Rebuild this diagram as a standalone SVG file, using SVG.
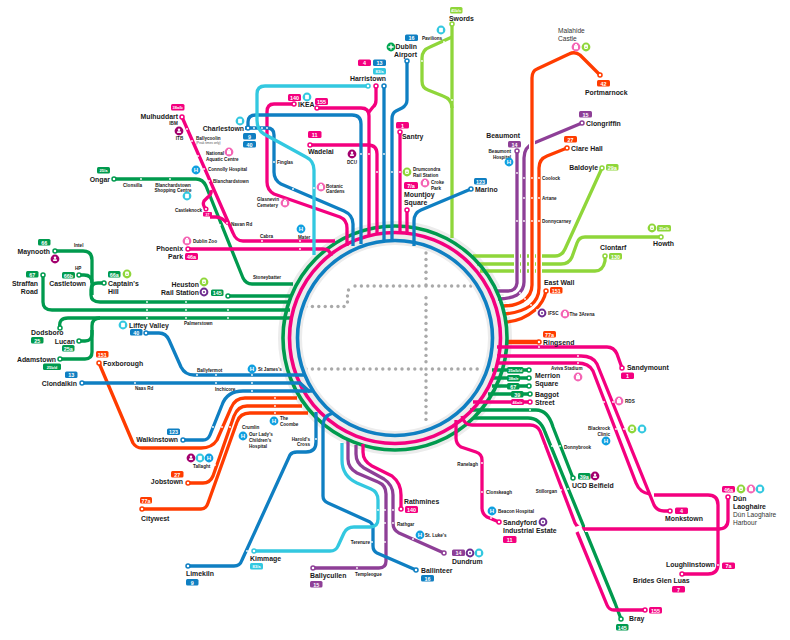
<svg xmlns="http://www.w3.org/2000/svg" width="790" height="640" viewBox="0 0 790 640">
<style>
text{font-family:"Liberation Sans",Arial,sans-serif;fill:#1a1a1a}
.t{font-size:6.9px;font-weight:700}
.r{font-size:6.6px;fill:#333}
.s{font-size:4.6px;font-weight:700}
.xs{font-size:3.2px;fill:#555}
.e{text-anchor:end}
.m{text-anchor:middle}
.bt{font-size:5.4px;fill:#fff;text-anchor:middle;font-weight:700}
.bs{font-size:4px;fill:#fff;text-anchor:middle;font-weight:700}
#lines path{fill:none;stroke-width:3.3;stroke-linejoin:round}
#lines path.w{stroke:#fff;stroke-width:6}
.g{stroke:#009a4e}.p{stroke:#f4007f}.b{stroke:#0f7fc2}.c{stroke:#33c8e0}.o{stroke:#ff3c00}.u{stroke:#8e3f97}.l{stroke:#8fd63a}
.fg{fill:#009a4e}.fp{fill:#f4007f}.fb{fill:#0f7fc2}.fc{fill:#33c8e0}.fo{fill:#ff3c00}.fu{fill:#8e3f97}.fl{fill:#8fd63a}
.st{fill:#fff;stroke-width:1.5}
.d{fill:#fff}
.dot{fill:#a9a9a9}
.iw{fill:#fff}
</style>
<defs>
<g id="ih"><circle r="4.4" fill="#10a0e0"/><text y="2.1" font-size="6" font-weight="700" text-anchor="middle" style="fill:#fff">H</text></g>
<g id="is"><circle r="4.4" fill="#33c8e0"/><rect x="-1.9" y="-2.3" width="3.8" height="4.6" rx=".8" class="iw"/></g>
<g id="ir"><circle r="4.4" fill="#8fd63a"/><rect x="-1.9" y="-2.4" width="3.8" height="4.4" rx="1.2" class="iw"/><circle r=".8" cy=".2" fill="#8fd63a"/></g>
<g id="ia"><circle r="4.4" fill="#f465b4"/><rect x="-2" y="-1.8" width="4" height="4" rx=".4" class="iw"/><rect x="-1" y="-3" width="2" height="1.4" class="iw"/></g>
<g id="ic"><circle r="4.4" fill="#a3006e"/><circle r="1.2" cy="-1.3" class="iw"/><rect x="-1.9" y=".2" width="3.8" height="1.9" rx=".6" class="iw"/></g>
<g id="iu"><circle r="4.4" fill="#6f2c91"/><circle r="2.4" class="iw"/><circle r="1" fill="#6f2c91"/></g>
<g id="ip"><circle r="4.4" fill="#00a651"/><path d="M-2.6 0H2.6M0-2.6V2.6" stroke="#fff" stroke-width="1.3"/></g>
</defs>
<g id="lines">
<g id="dotted" class="dot">
<circle cx="426" cy="253" r="1.7"/><circle cx="426" cy="259.400" r="1.7"/><circle cx="426" cy="265.800" r="1.7"/><circle cx="426" cy="272.200" r="1.7"/><circle cx="426" cy="278.600" r="1.7"/><circle cx="426" cy="285" r="1.7"/><circle cx="426" cy="297.800" r="1.7"/><circle cx="426" cy="304.200" r="1.7"/><circle cx="426" cy="310.600" r="1.7"/><circle cx="426" cy="317" r="1.7"/><circle cx="426" cy="323.400" r="1.7"/><circle cx="426" cy="329.800" r="1.7"/><circle cx="426" cy="336.200" r="1.7"/><circle cx="426" cy="342.600" r="1.7"/><circle cx="426" cy="349" r="1.7"/><circle cx="426" cy="355.400" r="1.7"/><circle cx="426" cy="361.800" r="1.7"/><circle cx="426" cy="374.600" r="1.7"/><circle cx="426" cy="381" r="1.7"/><circle cx="426" cy="387.400" r="1.7"/><circle cx="426" cy="393.800" r="1.7"/><circle cx="426" cy="400.200" r="1.7"/><circle cx="426" cy="406.600" r="1.7"/><circle cx="426" cy="413" r="1.7"/><circle cx="426" cy="419.400" r="1.7"/>
<circle cx="355" cy="286" r="1.7"/><circle cx="361.400" cy="286" r="1.7"/><circle cx="367.800" cy="286" r="1.7"/><circle cx="374.200" cy="286" r="1.7"/><circle cx="380.600" cy="286" r="1.7"/><circle cx="387" cy="286" r="1.7"/><circle cx="393.400" cy="286" r="1.7"/><circle cx="399.800" cy="286" r="1.7"/><circle cx="406.200" cy="286" r="1.7"/><circle cx="412.600" cy="286" r="1.7"/><circle cx="419" cy="286" r="1.7"/><circle cx="426" cy="286" r="1.7"/><circle cx="432.400" cy="286" r="1.7"/><circle cx="438.800" cy="286" r="1.7"/><circle cx="445.200" cy="286" r="1.7"/><circle cx="451.600" cy="286" r="1.7"/><circle cx="458" cy="286" r="1.7"/><circle cx="464.400" cy="286" r="1.7"/><circle cx="470.800" cy="286" r="1.7"/>
<circle cx="348.500" cy="290" r="1.7"/><circle cx="347.500" cy="296" r="1.7"/><circle cx="347.500" cy="302" r="1.7"/><circle cx="344" cy="306.500" r="1.7"/><circle cx="338" cy="306.500" r="1.7"/><circle cx="331.600" cy="306.500" r="1.7"/><circle cx="325.200" cy="306.500" r="1.7"/><circle cx="318.800" cy="306.500" r="1.7"/><circle cx="312.400" cy="306.500" r="1.7"/><circle cx="306" cy="306.500" r="1.7"/>
<circle cx="306" cy="369" r="1.7"/><circle cx="312.400" cy="369" r="1.7"/><circle cx="318.800" cy="369" r="1.7"/><circle cx="325.200" cy="369" r="1.7"/><circle cx="331.600" cy="369" r="1.7"/><circle cx="338" cy="369" r="1.7"/><circle cx="344.400" cy="369" r="1.7"/><circle cx="350.800" cy="369" r="1.7"/><circle cx="357.200" cy="369" r="1.7"/><circle cx="363.600" cy="369" r="1.7"/><circle cx="370" cy="369" r="1.7"/><circle cx="376.400" cy="369" r="1.7"/><circle cx="382.800" cy="369" r="1.7"/><circle cx="389.200" cy="369" r="1.7"/><circle cx="395.600" cy="369" r="1.7"/><circle cx="402" cy="369" r="1.7"/><circle cx="408.400" cy="369" r="1.7"/><circle cx="414.800" cy="369" r="1.7"/><circle cx="421.200" cy="369" r="1.7"/><circle cx="426" cy="369" r="1.7"/><circle cx="432.400" cy="369" r="1.7"/><circle cx="438.800" cy="369" r="1.7"/><circle cx="445.200" cy="369" r="1.7"/><circle cx="451.600" cy="369" r="1.7"/><circle cx="458" cy="369" r="1.7"/><circle cx="464.400" cy="369" r="1.7"/><circle cx="470.800" cy="369" r="1.7"/><circle cx="477.200" cy="369" r="1.7"/>
</g>
<circle cx="395" cy="338" r="105" fill="none" stroke="#ececec" stroke-width="24"/>
<!-- lime -->
<path class="l" d="M452 24V238"/>
<path class="l" d="M452 37L430 47Q422 50 422 58V81Q422 88 428 90L443 96Q452 99 452 108"/>
<path class="l" d="M602 168L565 249Q562 256 555 256H473"/>
<path class="l" d="M661 237H585Q579 237 577 243L572 257Q569 264 561 264H477"/>
<path class="l" d="M605 256V261Q603 271 595 271H480"/>
<!-- orange / purple, with casing -->
<path class="w" d="M517 151V283Q516 291 508 291H497"/>
<path class="u" d="M517 151V283Q516 291 508 291H497"/>
<path class="w" d="M582 123L534 143Q524 147 524 158V282Q524 290 517 295Q509 299 498 299"/>
<path class="u" d="M582 123L534 143Q524 147 524 158V282Q524 290 517 295Q509 299 498 299"/>
<path class="w" d="M600 75L580 55Q575 51 569 54L537 69Q532 71 532 78V285Q532 295 523 301Q515 306 503 306"/>
<path class="o" d="M600 75L580 55Q575 51 569 54L537 69Q532 71 532 78V285Q532 295 523 301Q515 306 503 306"/>
<path class="w" d="M567 148L547 156Q539 159 539 168V288Q539 299 530 306Q520 313 503 314"/>
<path class="o" d="M567 148L547 156Q539 159 539 168V288Q539 299 530 306Q520 313 503 314"/>
<path class="o" d="M546 291Q544 302 535 310Q522 321 506 322"/>
<path class="o" style="stroke-width:4.500" d="M507 342H539"/>
<path class="o" d="M99 363L133 443Q136 448 142 448H201Q212 448 217 440L231 408Q235 398 245 398H297"/>
<path class="o" d="M188 483H203Q210 483 213 476L234 416Q238 406 247 406H302"/>
<path class="o" d="M142 509H201Q206 509 208 503L237 422Q240 413 250 413H308"/>
<path class="u" d="M313 568H379Q386 568 386 561V494Q386 485 378 482L357 473Q348 468 348 459V440"/>
<path class="u" d="M444 553L399 533Q393 530 393 523V495Q393 485 384 479L364 468Q356 463 356 454V445"/>
<!-- green -->
<path class="g" d="M114 179H196Q203 179 206 186L243 278Q246 284 252 284H293"/>
<path class="g" d="M55 251H83Q92 251 92 260V295"/>
<path class="g" d="M79 275H84Q92 275 92 283"/>
<path class="g" d="M104 283H98Q91 283 91 290V295Q91 302 100 302H290"/>
<path class="g" d="M43 275V302Q43 310 52 310H290"/>
<path class="g" d="M228 296H290"/>
<path class="g" d="M60 328Q58 318 68 318H292"/>
<path class="g" d="M79 341H85Q92 341 92 334V326Q92 318 100 318"/>
<path class="g" d="M60 359H85Q92 359 92 352V330"/>
<path class="g" d="M492 370H529M492 378H529M492 386H529M488 394H530"/>
<path class="g" d="M621 619L615 603L545 432Q540 418 528 418H474"/>
<path class="g" d="M573 478L553 427Q548 410 536 410H470"/>
<circle cx="395" cy="338" r="112" fill="none" stroke="#009a4e" stroke-width="3.600"/>
<!-- pink -->
<path class="p" d="M182 117L233 233Q236 241 243 241H335"/>
<path class="p" d="M211 190Q212 194 208 197L204 201Q202 205 206 209"/>
<path class="p" d="M210 217H216Q222 217 228 224"/>
<path class="p" d="M188 249H323Q330 249 331 256"/>
<path class="p" d="M294 104H274Q267 104 267 112V182Q267 190 274 194L340 217Q347 220 347 228V246"/>
<path class="p" d="M317 108H361Q369 108 369 116V236"/>
<path class="p" d="M376 86V100Q376 105 373 107L369 112"/>
<path class="p" d="M310 145H368Q377 145 377 154V234"/>
<path class="p" d="M400 132V234"/>
<path class="p" d="M407 210V234"/>
<path class="p" d="M401 509V495Q401 483 392 476L372 466Q363 461 363 452V444"/>
<path class="p" d="M499 522L487 517Q482 514 482 508V460Q482 454 476 452L461 447Q456 444 456 438V420"/>
<path class="w" d="M585 529H600"/>
<path class="p" d="M462 416Q464 425 472 425H530Q537 425 540 431L575 523Q578 529 585 529H718Q728 529 728 520V497"/>
<path class="w" d="M582 536L578 526"/>
<path class="p" d="M645 610H614Q609 610 607 605L577 532"/>
<path class="p" d="M622 368L617 354Q614 347 607 347H497"/>
<path class="p" d="M497 356H581Q593 356 597 364L654 505Q657 511 664 511H670"/>
<path class="p" d="M497 363H577Q589 363 593 371L636 483Q640 493 650 494"/>
<path class="p" d="M654 495H708Q718 495 718 505V564Q718 574 708 574H682"/>
<path class="p" d="M473 402H530"/>
<circle cx="395" cy="338" r="105.500" fill="none" stroke="#f4007f" stroke-width="3.600"/>
<!-- blue -->
<path class="b" d="M146 333H159Q166 333 169 340L181 367Q185 375 194 375H306"/>
<path class="b" d="M82 383H300L310 392"/>
<path class="b" d="M183 440H203Q208 440 210 435L222 405Q227 391 243 391H312"/>
<path class="b" d="M188 566H234Q240 566 242 560L290 455Q292 452 297 452H306Q316 452 316 442V412"/>
<path class="b" d="M333 413Q323 416 323 425V496Q323 501 328 503L370 522Q373 524 373 528V546Q373 551 377 553L416 570"/>
<path class="c" d="M254 551H330Q336 551 338 546L344 533Q347 527 354 527H370Q378 527 378 519V500Q378 492 371 489L357 483Q342 476 342 460V443"/>
<path class="b" d="M245 128H267Q274 128 274 135V172Q274 180 281 184L344 211Q353 215 353 224V246"/>
<path class="b" d="M248 128V122Q248 115 256 115H352Q361 115 361 124V244"/>
<path class="b" d="M384 86V242"/>
<path class="b" d="M407 61V100Q407 105 402 108L396 111Q392 113 392 119V242"/>
<path class="b" d="M471 189L421 210Q414 213 414 221V246"/>
<path class="c" d="M368 86H265Q257 86 257 94V120Q257 130 264 134L306 157Q314 161 314 170V255"/>
<circle cx="395" cy="338" r="97.500" fill="none" stroke="#0f7fc2" stroke-width="3.600"/>
<g id="ticks" class="d">
<circle cx="187" cy="129" r=".9"/><circle cx="192" cy="141" r=".9"/><circle cx="198" cy="156" r=".9"/><circle cx="204" cy="169" r=".9"/><circle cx="209" cy="181" r=".9"/><circle cx="227" cy="223" r=".9"/><circle cx="262" cy="241" r=".9"/><circle cx="300" cy="241" r=".9"/><circle cx="300" cy="249" r=".9"/><circle cx="141" cy="179" r=".9"/><circle cx="170" cy="179" r=".9"/><circle cx="220" cy="225" r=".9"/>
<circle cx="254" cy="128" r=".9"/><circle cx="262" cy="128" r=".9"/><circle cx="267" cy="128" r=".9"/><circle cx="274" cy="162" r=".9"/><circle cx="293" cy="189" r=".9"/><circle cx="314" cy="188" r=".9"/><circle cx="290" cy="196" r=".9"/><circle cx="361" cy="154" r=".9"/><circle cx="369" cy="154" r=".9"/><circle cx="384" cy="154" r=".9"/><circle cx="377" cy="172" r=".9"/><circle cx="392" cy="172" r=".9"/><circle cx="400" cy="172" r=".9"/>
<circle cx="517" cy="173" r=".9"/><circle cx="524" cy="178" r=".9"/><circle cx="532" cy="178" r=".9"/><circle cx="539" cy="178" r=".9"/><circle cx="524" cy="198" r=".9"/><circle cx="532" cy="198" r=".9"/><circle cx="539" cy="198" r=".9"/><circle cx="517" cy="221" r=".9"/><circle cx="524" cy="221" r=".9"/><circle cx="532" cy="221" r=".9"/><circle cx="539" cy="221" r=".9"/>
<circle cx="147" cy="302" r=".9"/><circle cx="186" cy="302" r=".9"/><circle cx="147" cy="310" r=".9"/><circle cx="186" cy="310" r=".9"/><circle cx="228" cy="310" r=".9"/><circle cx="147" cy="318" r=".9"/><circle cx="186" cy="318" r=".9"/><circle cx="228" cy="318" r=".9"/>
<circle cx="197" cy="375" r=".9"/><circle cx="216" cy="375" r=".9"/><circle cx="252" cy="375" r=".9"/><circle cx="135" cy="383" r=".9"/><circle cx="216" cy="383" r=".9"/><circle cx="252" cy="383" r=".9"/><circle cx="252" cy="391" r=".9"/><circle cx="275" cy="398" r=".9"/><circle cx="275" cy="406" r=".9"/><circle cx="275" cy="413" r=".9"/><circle cx="213" cy="427" r=".9"/><circle cx="222" cy="427" r=".9"/><circle cx="230" cy="427" r=".9"/><circle cx="238" cy="427" r=".9"/><circle cx="215" cy="465" r=".9"/><circle cx="316" cy="439" r=".9"/>
<circle cx="378" cy="510" r=".9"/><circle cx="385" cy="510" r=".9"/><circle cx="393" cy="510" r=".9"/><circle cx="385" cy="523" r=".9"/><circle cx="393" cy="523" r=".9"/><circle cx="385" cy="542" r=".9"/><circle cx="372" cy="542" r=".9"/><circle cx="357" cy="568" r=".9"/><circle cx="413" cy="539" r=".9"/><circle cx="247" cy="551" r=".9"/>
<circle cx="482" cy="463" r=".9"/><circle cx="482" cy="492" r=".9"/><circle cx="491" cy="518" r=".9"/><circle cx="543" cy="446" r=".9"/><circle cx="552" cy="446" r=".9"/><circle cx="560" cy="446" r=".9"/><circle cx="561" cy="490" r=".9"/><circle cx="568" cy="489" r=".9"/><circle cx="530" cy="410" r=".9"/><circle cx="604" cy="402" r=".9"/><circle cx="613" cy="402" r=".9"/><circle cx="616" cy="429" r=".9"/><circle cx="624" cy="429" r=".9"/><circle cx="718" cy="565" r=".9"/><circle cx="539" cy="347" r=".9"/><circle cx="578" cy="356" r=".9"/><circle cx="578" cy="363" r=".9"/><circle cx="537" cy="310" r=".9"/><circle cx="531" cy="305" r=".9"/><circle cx="525" cy="299" r=".9"/><circle cx="520" cy="293" r=".9"/><circle cx="444" cy="42" r=".9"/><circle cx="422" cy="61" r=".9"/><circle cx="452" cy="100" r=".9"/>
</g>
</g>
<g id="n-swords"><circle class="st l" cx="452" cy="24" r="2"/><rect class="fl" x="450" y="7" width="12.500" height="6.500" rx="1.500"/><text class="bs" x="456" y="12">41b/c</text><text class="t" x="449" y="20.500">Swords</text></g>
<g id="n-pavilions"><use href="#is" x="441" y="30"/><text class="s" x="422" y="40">Pavilions</text></g>
<g id="n-dublin-airport"><circle class="st b" cx="407" cy="61" r="2"/><rect class="fb" x="405" y="34.500" width="13" height="6.500" rx="1.500"/><text class="bt" x="411.500" y="40">16</text><use href="#ip" x="391" y="47"/><text class="t e" x="417" y="49">Dublin</text><text class="t e" x="417" y="57">Airport</text></g>
<g id="n-harristown"><circle class="st c" cx="368" cy="86" r="2"/><circle class="st p" cx="376" cy="86" r="2"/><circle class="st b" cx="384" cy="86" r="2"/><rect class="fp" x="358" y="59.500" width="13" height="6.500" rx="1.500"/><text class="bt" x="364.500" y="65">4</text><rect class="fb" x="373" y="59.500" width="13" height="6.500" rx="1.500"/><text class="bt" x="379.500" y="65">13</text><rect class="fc" x="373" y="68" width="13" height="6.500" rx="1.500"/><text class="bs" x="379.500" y="73">83/a</text><text class="t e" x="386" y="81">Harristown</text></g>
<g id="n-santry"><circle class="st p" cx="400" cy="132" r="2"/><rect class="fp" x="396" y="122" width="13" height="6.500" rx="1.500"/><text class="bt" x="402.500" y="127.500">1</text><text class="t" x="402" y="139">Santry</text></g>
<g id="n-drumcondra"><use href="#ir" x="407" y="172"/><text class="s" x="413" y="171">Drumcondra</text><text class="s" x="413" y="177">Rail Station</text></g>
<g id="n-croke"><use href="#ia" x="425" y="183"/><text class="s" x="431" y="183.500">Croke</text><text class="s" x="431" y="189.500">Park</text></g>
<g id="n-mountjoy"><circle class="st p" cx="407" cy="210" r="2"/><rect class="fp" x="404" y="182" width="14" height="7" rx="1.500"/><text class="bt" x="411" y="187.800">7/a</text><text class="t" x="404" y="197">Mountjoy</text><text class="t" x="404" y="205">Square</text></g>
<g id="n-marino"><circle class="st b" cx="471" cy="189" r="2"/><rect class="fb" x="474" y="178" width="13" height="6.500" rx="1.500"/><text class="bt" x="480.500" y="183.500">123</text><text class="t" x="475" y="192">Marino</text></g>
<g id="n-malahide"><text class="r" x="558" y="33">Malahide</text><text class="r" x="558" y="41">Castle</text><use href="#ia" x="576" y="47"/><use href="#ir" x="586" y="47"/></g>
<g id="n-portmarnock"><circle class="st o" cx="600" cy="75" r="2"/><rect class="fo" x="597" y="80" width="13" height="6.500" rx="1.500"/><text class="bt" x="603.500" y="85.500">42</text><text class="t" x="585" y="94.500">Portmarnock</text></g>
<g id="n-clongriffin"><circle class="st u" cx="582" cy="123" r="2"/><rect class="fu" x="579" y="111" width="13" height="6.500" rx="1.500"/><text class="bt" x="585.500" y="116.500">15</text><text class="t" x="586" y="126">Clongriffin</text></g>
<g id="n-beaumont"><circle class="st u" cx="517" cy="151" r="2"/><text class="t e" x="520" y="138">Beaumont</text><rect class="fu" x="508" y="141" width="13" height="6.500" rx="1.500"/><text class="bt" x="514.500" y="146.500">14</text><text class="s e" x="511" y="153">Beaumont</text><text class="s e" x="511" y="158.500">Hospital</text><use href="#ih" x="509" y="162"/></g>
<g id="n-clarehall"><circle class="st o" cx="567" cy="148" r="2"/><rect class="fo" x="564" y="136" width="13" height="6.500" rx="1.500"/><text class="bt" x="570.500" y="141.500">27</text><text class="t" x="571" y="150.700">Clare Hall</text></g>
<g id="n-baldoyle"><circle class="st l" cx="602" cy="168" r="2"/><text class="t e" x="598" y="169.500">Baldoyle</text><rect class="fl" x="606" y="164" width="12.500" height="6.500" rx="1.500"/><text class="bt" x="612.200" y="169.500">29a</text></g>
<g id="n-coolock"><text class="s" x="542" y="180">Coolock</text></g>
<g id="n-artane"><text class="s" x="542" y="200">Artane</text></g>
<g id="n-donnycarney"><text class="s" x="542" y="223">Donnycarney</text></g>
<g id="n-howth"><circle class="st l" cx="661" cy="237" r="2"/><use href="#ir" x="652" y="228"/><rect class="fl" x="657" y="225" width="14" height="6.500" rx="1.500"/><text class="bs" x="664" y="230">31a/b</text><text class="t" x="653" y="245.700">Howth</text></g>
<g id="n-clontarf"><circle class="st l" cx="605" cy="256" r="2"/><text class="t" x="600" y="250">Clontarf</text><rect class="fl" x="609" y="253" width="13" height="6.500" rx="1.500"/><text class="bt" x="615.500" y="258.500">130</text></g>
<g id="n-eastwall"><circle class="st o" cx="546" cy="291" r="2"/><text class="t" x="544" y="284.500">East Wall</text><rect class="fo" x="550" y="287" width="12.500" height="6.500" rx="1.500"/><text class="bt" x="556.200" y="292.500">151</text></g>
<g id="n-ifsc"><use href="#iu" x="542" y="313"/><text class="s" x="548" y="315">IFSC</text></g>
<g id="n-3arena"><use href="#ia" x="565" y="314"/><text class="s" x="569.500" y="316">The 3Arena</text></g>
<g id="n-ringsend"><circle class="st o" cx="539" cy="342" r="2"/><rect class="fo" x="543" y="331" width="13" height="6.500" rx="1.500"/><text class="bt" x="549.500" y="336.500">77a</text><text class="t" x="543" y="344.500">Ringsend</text></g>
<g id="n-sandymount"><circle class="st p" cx="622" cy="368" r="2"/><text class="t" x="627" y="370">Sandymount</text><rect class="fp" x="621" y="372.500" width="13" height="6.500" rx="1.500"/><text class="bt" x="627.500" y="378">1</text></g>
<g id="n-aviva"><text class="s" x="551" y="370">Aviva Stadium</text><use href="#ia" x="578" y="377"/></g>
<g id="n-merrion"><circle class="st g" cx="529" cy="370" r="2"/><circle class="st g" cx="529" cy="378" r="2"/><rect class="fg" x="507" y="367" width="16.500" height="6.500" rx="1.500"/><text class="bs" x="515.200" y="372">25a/b/d</text><rect class="fg" x="507" y="375" width="13" height="6.500" rx="1.500"/><text class="bs" x="513.500" y="380">38a/e</text><text class="t" x="535" y="377.500">Merrion</text><text class="t" x="535" y="385.500">Square</text></g>
<g id="n-67"><circle class="st g" cx="529" cy="386" r="2"/><rect class="fg" x="507" y="383" width="12.500" height="6.500" rx="1.500"/><text class="bt" x="513.200" y="388.500">67</text></g>
<g id="n-baggot"><circle class="st g" cx="530" cy="394" r="2"/><rect class="fg" x="511" y="391" width="12.500" height="6.500" rx="1.500"/><text class="bt" x="517.200" y="396.500">39</text><text class="t" x="535" y="396.500">Baggot</text></g>
<g id="n-street"><circle class="st p" cx="530" cy="402" r="2"/><rect class="fp" x="511" y="399" width="13" height="6" rx="1.500"/><text class="bs" x="517.500" y="403.700">46a/e</text><text class="t" x="535" y="404.500">Street</text></g>
<g id="n-rds"><use href="#ia" x="619" y="401"/><text class="s" x="625" y="403">RDS</text></g>
<g id="n-blackrock"><text class="s e" x="610" y="430">Blackrock</text><text class="s e" x="610" y="435.500">Clinic</text><use href="#ih" x="606" y="441"/><use href="#ir" x="632" y="429"/><use href="#is" x="642" y="429"/></g>
<g id="n-monkstown"><circle class="st p" cx="670" cy="511" r="2"/><rect class="fp" x="675" y="507.500" width="13" height="6.500" rx="1.500"/><text class="bt" x="681.500" y="513">4</text><text class="t" x="665" y="520.700">Monkstown</text></g>
<g id="n-dunlaoghaire"><circle class="st p" cx="728" cy="497" r="2"/><rect class="fp" x="722" y="486" width="13" height="6.500" rx="1.500"/><text class="bt" x="728.500" y="491.500">46a</text><use href="#ir" x="741" y="489"/><use href="#ia" x="751" y="489"/><use href="#is" x="760" y="489"/><text class="t" x="733" y="500.500">Dún</text><text class="t" x="733" y="508.500">Laoghaire</text><text class="r" x="733" y="516.700">Dún Laoghaire</text><text class="r" x="733" y="524.500">Harbour</text></g>
<g id="n-loughlinstown"><text class="t e" x="715" y="567">Loughlinstown</text><rect class="fp" x="722" y="562.500" width="13" height="6.500" rx="1.500"/><text class="bt" x="728.500" y="568">7a</text></g>
<g id="n-bridesglen"><circle class="st p" cx="682" cy="574" r="2"/><text class="t" x="633" y="583">Brides Glen Luas</text><rect class="fp" x="672" y="586" width="13" height="6.500" rx="1.500"/><text class="bt" x="678.500" y="591.500">7</text></g>
<g id="n-bray"><circle class="st p" cx="645" cy="610" r="2"/><circle class="st g" cx="621" cy="619" r="2"/><rect class="fp" x="649" y="607" width="13" height="6.500" rx="1.500"/><text class="bt" x="655.500" y="612.500">155</text><text class="t" x="629" y="620.500">Bray</text><rect class="fg" x="616" y="624" width="12.500" height="6.500" rx="1.500"/><text class="bt" x="622.200" y="629.500">145</text></g>
<g id="n-ucd"><circle class="st g" cx="573" cy="478" r="2"/><rect class="fg" x="578" y="473" width="12.500" height="6.500" rx="1.500"/><text class="bt" x="584.200" y="478.500">39a</text><use href="#ic" x="595" y="476"/><text class="t" x="572" y="487.500">UCD Belfield</text></g>
<g id="n-donnybrook"><text class="s" x="564" y="448.500">Donnybrook</text></g>
<g id="n-stillorgan"><text class="s e" x="557" y="492.500">Stillorgan</text></g>
<g id="n-ranelagh"><text class="s e" x="478" y="465.500">Ranelagh</text></g>
<g id="n-clonskeagh"><text class="s" x="486" y="494">Clonskeagh</text></g>
<g id="n-beacon"><use href="#ih" x="492" y="511"/><text class="s" x="498" y="513">Beacon Hospital</text></g>
<g id="n-sandyford"><circle class="st p" cx="499" cy="522" r="2"/><use href="#iu" x="543" y="522"/><text class="t" x="503" y="525">Sandyford</text><text class="t" x="503" y="533">Industrial Estate</text><rect class="fp" x="503" y="536" width="13.500" height="7" rx="1.500"/><text class="bt" x="509.700" y="541.800">11</text></g>
<g id="n-dundrum"><circle class="st u" cx="444" cy="553" r="2"/><rect class="fu" x="452" y="549.500" width="13" height="6.500" rx="1.500"/><text class="bt" x="458.500" y="555">14</text><use href="#iu" x="470" y="553"/><use href="#is" x="479" y="553"/><text class="t" x="452" y="563.500">Dundrum</text></g>
<g id="n-stlukes"><use href="#ih" x="420" y="535"/><text class="s" x="425" y="537">St. Luke's</text></g>
<g id="n-rathgar"><text class="s" x="397" y="525.500">Rathgar</text></g>
<g id="n-rathmines"><circle class="st p" cx="401" cy="509" r="2"/><text class="t" x="404" y="504">Rathmines</text><rect class="fp" x="405" y="506" width="13" height="7" rx="1.500"/><text class="bt" x="411.500" y="511.800">140</text></g>
<g id="n-terenure"><text class="s e" x="370" y="543.500">Terenure</text></g>
<g id="n-ballinteer"><circle class="st b" cx="416" cy="570" r="2"/><text class="t" x="421" y="573">Ballinteer</text><rect class="fb" x="421" y="575" width="13" height="6.500" rx="1.500"/><text class="bt" x="427.500" y="580.500">16</text></g>
<g id="n-ballycullen"><circle class="st u" cx="313" cy="568" r="2"/><text class="t" x="310" y="578">Ballycullen</text><rect class="fu" x="310" y="581" width="12.500" height="6.500" rx="1.500"/><text class="bt" x="316.200" y="586.500">15</text></g>
<g id="n-templeogue"><text class="s" x="355" y="576">Templeogue</text></g>
<g id="n-kimmage"><circle class="st c" cx="254" cy="551" r="2"/><text class="t" x="250" y="561">Kimmage</text><rect class="fc" x="250" y="563" width="13" height="6.500" rx="1.500"/><text class="bs" x="256.500" y="568">83/a</text></g>
<g id="n-limekiln"><circle class="st b" cx="188" cy="566" r="2"/><text class="t" x="186" y="576">Limekiln</text><rect class="fb" x="186" y="579" width="12.500" height="6.500" rx="1.500"/><text class="bt" x="192.200" y="584.500">9</text></g>
<g id="n-citywest"><circle class="st o" cx="142" cy="509" r="2"/><text class="t" x="141" y="521">Citywest</text><rect class="fo" x="140" y="497" width="12" height="6.500" rx="1.500"/><text class="bt" x="146" y="502.500">77a</text></g>
<g id="n-jobstown"><circle class="st o" cx="188" cy="483" r="2"/><text class="t e" x="183" y="484">Jobstown</text><rect class="fo" x="171" y="471" width="12.500" height="6.500" rx="1.500"/><text class="bt" x="177.200" y="476.500">27</text></g>
<g id="n-tallaght"><use href="#ic" x="191" y="458"/><use href="#is" x="200" y="458"/><use href="#ih" x="209" y="458"/><text class="s" x="193" y="467.500">Tallaght</text></g>
<g id="n-walkinstown"><circle class="st b" cx="183" cy="440" r="2"/><text class="t e" x="178" y="442">Walkinstown</text><rect class="fb" x="167" y="428.500" width="13" height="6.500" rx="1.500"/><text class="bt" x="173.500" y="434">123</text></g>
<g id="n-crumlin"><text class="s" x="242" y="428.500">Crumlin</text></g>
<g id="n-olcch"><use href="#ih" x="243" y="436"/><text class="s" x="249" y="436">Our Lady's</text><text class="s" x="249" y="442">Children's</text><text class="s" x="249" y="447.500">Hospital</text></g>
<g id="n-coombe"><use href="#ih" x="274" y="421"/><text class="s" x="280" y="419.500">The</text><text class="s" x="280" y="425.500">Coombe</text></g>
<g id="n-haroldscross"><text class="s e" x="310" y="440.500">Harold's</text><text class="s e" x="310" y="445.500">Cross</text></g>
<g id="n-inchicore"><text class="s" x="215" y="390.500">Inchicore</text></g>
<g id="n-naasrd"><text class="s" x="135" y="389.500">Naas Rd</text></g>
<g id="n-ballyfermot"><text class="s" x="197" y="371.500">Ballyfermot</text></g>
<g id="n-stjames"><use href="#ih" x="252" y="369"/><text class="s" x="258" y="370.500">St James's</text></g>
<g id="n-foxborough"><circle class="st o" cx="99" cy="363" r="2"/><rect class="fo" x="96" y="351" width="12.500" height="6.500" rx="1.500"/><text class="bt" x="102.200" y="356.500">151</text><text class="t" x="103" y="365.500">Foxborough</text></g>
<g id="n-clondalkin"><circle class="st b" cx="82" cy="383" r="2"/><text class="t e" x="77" y="385.500">Clondalkin</text><rect class="fb" x="65" y="371.500" width="12.500" height="6.500" rx="1.500"/><text class="bt" x="71.200" y="377">13</text></g>
<g id="n-liffey"><circle class="st b" cx="146" cy="333" r="2"/><use href="#is" x="123" y="325"/><text class="t" x="129" y="327.500">Liffey Valley</text><rect class="fb" x="130" y="329" width="12.500" height="6.500" rx="1.500"/><text class="bt" x="136.200" y="334.500">40</text></g>
<g id="n-palmerstown"><text class="s" x="184" y="325">Palmerstown</text></g>
<g id="n-adamstown"><circle class="st g" cx="60" cy="359" r="2"/><text class="t e" x="56" y="361.500">Adamstown</text><rect class="fg" x="43" y="363.500" width="18" height="6.500" rx="1.500"/><text class="bs" x="52" y="368.500">25b/d</text></g>
<g id="n-lucan"><circle class="st g" cx="79" cy="341" r="2"/><text class="t e" x="75" y="343.500">Lucan</text><rect class="fg" x="62" y="345" width="12.500" height="6.500" rx="1.500"/><text class="bt" x="68.200" y="350.500">25a</text></g>
<g id="n-dodsboro"><circle class="st g" cx="60" cy="328" r="2"/><text class="t" x="31" y="335">Dodsboro</text><rect class="fg" x="31" y="337" width="12.500" height="6.500" rx="1.500"/><text class="bt" x="37.200" y="342.500">25</text></g>
<g id="n-straffan"><circle class="st g" cx="43" cy="275" r="2"/><rect class="fg" x="26" y="271" width="12.500" height="6.500" rx="1.500"/><text class="bt" x="32.200" y="276.500">67</text><text class="t e" x="38" y="285.500">Straffan</text><text class="t e" x="38" y="293.500">Road</text></g>
<g id="n-maynooth"><circle class="st g" cx="55" cy="251" r="2"/><text class="t e" x="50" y="253.500">Maynooth</text><rect class="fg" x="38" y="239" width="12.500" height="6.500" rx="1.500"/><text class="bt" x="44.200" y="244.500">66</text><use href="#ic" x="55" y="259"/></g>
<g id="n-intel"><text class="s" x="74" y="247">Intel</text></g>
<g id="n-castletown"><circle class="st g" cx="79" cy="275" r="2"/><text class="s" x="75" y="270">HP</text><rect class="fg" x="62" y="272" width="13" height="6.500" rx="1.500"/><text class="bt" x="68.500" y="277.500">66b</text><text class="t e" x="86" y="285.500">Castletown</text></g>
<g id="n-captains"><circle class="st g" cx="104" cy="283" r="2"/><text class="t" x="108" y="285.500">Captain's</text><text class="t" x="108" y="293.500">Hill</text><rect class="fg" x="108" y="271" width="12.500" height="6.500" rx="1.500"/><text class="bt" x="114.200" y="276.500">66a</text><use href="#ir" x="127" y="274"/></g>
<g id="n-heuston"><circle class="st g" cx="228" cy="296" r="2"/><text class="t e" x="199" y="286.500">Heuston</text><text class="t e" x="199" y="294.500">Rail Station</text><use href="#ir" x="204" y="282"/><use href="#iu" x="204" y="292"/><rect class="fg" x="211" y="289.500" width="12.500" height="6.500" rx="1.500"/><text class="bt" x="217.200" y="295">145</text></g>
<g id="n-stoneybatter"><text class="s" x="253" y="278.500">Stoneybatter</text></g>
<g id="n-phoenix"><circle class="st p" cx="188" cy="249" r="2"/><text class="t e" x="183" y="251">Phoenix</text><text class="t e" x="183" y="258.500">Park</text><rect class="fp" x="185" y="253" width="13" height="7" rx="1.500"/><text class="bt" x="191.500" y="258.800">46a</text><use href="#ia" x="187" y="241"/><text class="s" x="193" y="243">Dublin Zoo</text></g>
<g id="n-cabra"><text class="s" x="260" y="237.500">Cabra</text></g>
<g id="n-mater"><use href="#ih" x="301" y="229"/><text class="s" x="298" y="238.500">Mater</text></g>
<g id="n-glasnevin"><use href="#ia" x="285" y="203"/><text class="s" x="257" y="201">Glasnevin</text><text class="s" x="257" y="207">Cemetery</text></g>
<g id="n-botanic"><use href="#ia" x="321" y="187"/><text class="s" x="326" y="187.500">Botanic</text><text class="s" x="326" y="193">Gardens</text></g>
<g id="n-finglas"><text class="s" x="277" y="163.500">Finglas</text></g>
<g id="n-wadelai"><circle class="st p" cx="310" cy="145" r="2"/><rect class="fp" x="308" y="131" width="13.500" height="7" rx="1.500"/><text class="bt" x="314.700" y="136.800">11</text><text class="t" x="308" y="154">Wadelai</text></g>
<g id="n-dcu"><use href="#ic" x="352" y="154"/><text class="s" x="347" y="164">DCU</text></g>
<g id="n-ikea"><circle class="st p" cx="294" cy="104" r="2"/><circle class="st p" cx="317" cy="108" r="2"/><rect class="fp" x="288" y="94" width="13" height="7" rx="1.500"/><text class="bt" x="294.500" y="99.800">140</text><use href="#is" x="307" y="97"/><rect class="fp" x="315" y="98" width="13" height="7" rx="1.500"/><text class="bt" x="321.500" y="103.800">155</text><text class="t" x="298" y="107">IKEA</text></g>
<g id="n-charlestown"><circle class="st b" cx="248" cy="128" r="2"/><text class="t e" x="244" y="130.500">Charlestown</text><use href="#is" x="240" y="121"/><rect class="fb" x="243" y="133" width="13" height="6.500" rx="1.500"/><text class="bt" x="249.500" y="138.500">9</text><rect class="fb" x="243" y="141" width="13" height="6.500" rx="1.500"/><text class="bt" x="249.500" y="146.500">40</text></g>
<g id="n-mulhuddart"><circle class="st p" cx="182" cy="117" r="2"/><text class="t e" x="178" y="119">Mulhuddart</text><rect class="fp" x="171" y="104" width="13.500" height="6.500" rx="1.500"/><text class="bs" x="177.700" y="109">38a/b</text><text class="s m" x="173.500" y="125">IBM</text><use href="#ic" x="179" y="131"/><text class="s m" x="179.500" y="140">ITB</text></g>
<g id="n-ballycoolin"><text class="s" x="196" y="139.500">Ballycoolin</text><text class="xs" x="196" y="144">(Peak times only)</text></g>
<g id="n-aquatic"><text class="s" x="206" y="155">National</text><text class="s" x="206" y="161">Aquatic Centre</text><use href="#ia" x="229" y="152"/></g>
<g id="n-connolly"><use href="#ih" x="196" y="170"/><text class="s" x="208" y="171">Connolly Hospital</text></g>
<g id="n-blanchardstown"><text class="s" x="213" y="183">Blanchardstown</text></g>
<g id="n-blanchsc"><text class="s m" x="173" y="186.500">Blanchardstown</text><text class="s m" x="173" y="191.500">Shopping Centre</text><use href="#is" x="187" y="196"/></g>
<g id="n-clonsilla"><text class="s" x="123" y="186.500">Clonsilla</text></g>
<g id="n-ongar"><circle class="st g" cx="114" cy="179" r="2"/><text class="t e" x="110" y="181.500">Ongar</text><rect class="fg" x="97" y="167" width="13" height="6.500" rx="1.500"/><text class="bs" x="103.500" y="172">25/a</text></g>
<g id="n-navanrd"><text class="s" x="231" y="225.500">Navan Rd</text></g>
<g id="n-castleknock"><circle class="st p" cx="206" cy="209" r="1.800"/><text class="s e" x="202" y="211.500">Castleknock</text><rect class="fp" x="203" y="212" width="9" height="4.500" rx="1"/><text class="bs" x="207.500" y="215.800" style="font-size:3.4px">37</text></g>
</svg>
